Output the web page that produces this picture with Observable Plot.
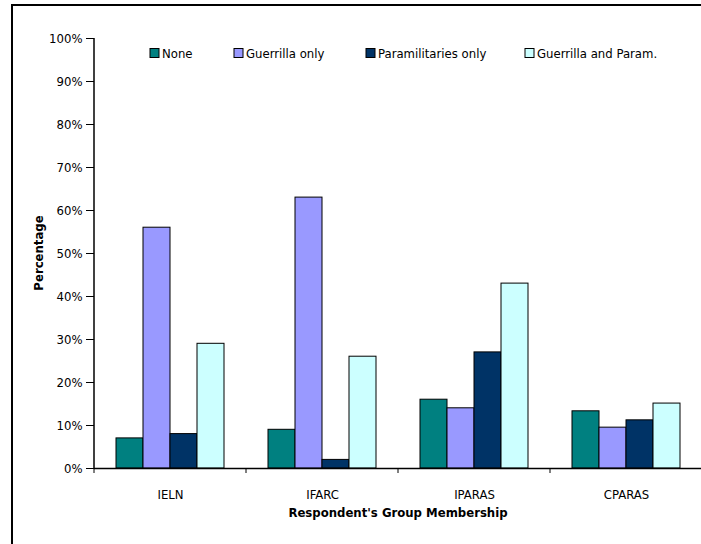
<!DOCTYPE html>
<html>
<head>
<meta charset="utf-8">
<script src="https://cdn.jsdelivr.net/npm/d3@7"></script>
<script src="https://cdn.jsdelivr.net/npm/@observablehq/plot@0.6"></script>
<style>
  html, body { margin: 0; padding: 0; background: #fff; overflow: hidden; }
  #chart svg { display: block; max-width: none !important; }
</style>
</head>
<body>
<div id="chart"></div>
<script>
// Respondent group membership vs. reported presence of armed groups (percent)
const categories = ["IELN", "IFARC", "IPARAS", "CPARAS"];
const series = ["None", "Guerrilla only", "Paramilitaries only", "Guerrilla and Param."];
const none = [7, 9, 16, 13.3];
const guerrillaOnly = [56, 63, 14, 9.5];
const paramilitariesOnly = [8, 2, 27, 11.2];
const guerrillaAndParam = [29, 26, 43, 15.1];
const colors = ["#008080", "#9999FF", "#003366", "#CCFFFF"];
const yTicks = [0, 10, 20, 30, 40, 50, 60, 70, 80, 90, 100];
const xTitle = "Respondent's Group Membership";
const yTitle = "Percentage";

const valuesBySeries = [none, guerrillaOnly, paramilitariesOnly, guerrillaAndParam];
const rows = [];
categories.forEach((cat, ci) => {
  series.forEach((s, si) => rows.push({cat, series: s, value: valuesBySeries[si][ci]}));
});

const font = "'DejaVu Sans Condensed', 'DejaVu Sans', sans-serif";
const fontSize = 13;

const chart = Plot.plot({
  width: 712,
  height: 544,
  marginLeft: 94,
  marginRight: 10,
  marginTop: 38,
  marginBottom: 76,
  style: {fontFamily: font, fontSize: fontSize + "px", color: "#000", background: "#fff"},
  fx: {domain: categories, padding: 0, label: null},
  x: {domain: series, paddingInner: 0, paddingOuter: 0.75, axis: null},
  y: {domain: [0, 100], label: null},
  color: {domain: series, range: colors},
  marks: [
    Plot.barY(rows, {fx: "cat", x: "series", y: "value", fill: "series", stroke: "#000", strokeWidth: 1}),
    Plot.ruleY([0], {stroke: "#000", strokeWidth: 1.5}),
    Plot.axisY({ticks: yTicks, tickSize: 8, tickPadding: 4, tickFormat: d => d + "%", label: null, stroke: "#000"}),
    Plot.axisFx({anchor: "bottom", tickSize: 0, tickPadding: 21, label: null})
  ]
});
chart.style.maxWidth = "none";
document.getElementById("chart").appendChild(chart);

const svg = d3.select(chart);
const fx = chart.scale("fx");
const y = chart.scale("y");
const y0 = y.apply(0), y100 = y.apply(100);

// vertical value axis line
svg.append("line")
  .attr("x1", fx.apply(categories[0])).attr("x2", fx.apply(categories[0]))
  .attr("y1", y100).attr("y2", y0)
  .attr("stroke", "#000").attr("stroke-width", 1.5);

// category boundary ticks below the baseline
const bounds = categories.map(c => fx.apply(c));
bounds.push(fx.apply(categories[categories.length - 1]) + fx.bandwidth);
svg.append("g").selectAll("line").data(bounds).join("line")
  .attr("x1", d => d).attr("x2", d => d)
  .attr("y1", y0).attr("y2", y0 + 5)
  .attr("stroke", "#000").attr("stroke-width", 1);

// axis titles
svg.append("text")
  .attr("x", (fx.apply(categories[0]) + bounds[bounds.length - 1]) / 2)
  .attr("y", 517)
  .attr("text-anchor", "middle")
  .attr("font-family", font).attr("font-size", fontSize).attr("font-weight", "bold")
  .text(xTitle);

svg.append("text")
  .attr("transform", `translate(43,${(y0 + y100) / 2}) rotate(-90)`)
  .attr("text-anchor", "middle")
  .attr("font-family", font).attr("font-size", fontSize).attr("font-weight", "bold")
  .text(yTitle);

// legend across the top of the plot area
const legendX = [150, 234, 366, 525];
const legend = svg.append("g").attr("text-anchor", "start");
series.forEach((s, i) => {
  legend.append("rect")
    .attr("x", legendX[i]).attr("y", 48.5).attr("width", 9).attr("height", 9)
    .attr("fill", chart.scale("color").apply(s)).attr("stroke", "#000").attr("stroke-width", 1);
  legend.append("text")
    .attr("x", legendX[i] + 12).attr("y", 53).attr("dy", "0.35em")
    .attr("text-anchor", "start")
    .attr("font-family", font).attr("font-size", fontSize)
    .text(s);
});

// outer chart border
svg.append("rect")
  .attr("x", 12).attr("y", 5).attr("width", 740).attr("height", 600)
  .attr("fill", "none").attr("stroke", "#000").attr("stroke-width", 2);
</script>
</body>
</html>
